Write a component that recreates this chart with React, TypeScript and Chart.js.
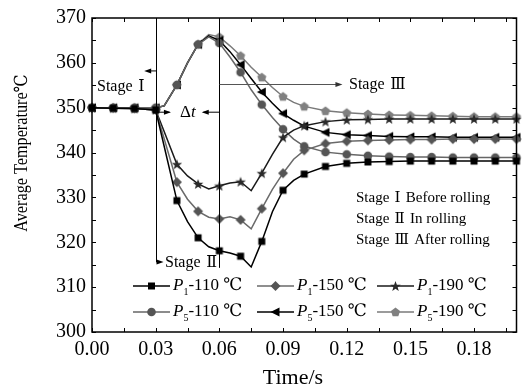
import React, { useEffect, useRef } from 'react';
import { Chart, registerables } from 'chart.js';

Chart.register(...registerables);

// ---------- data ----------
const times = [0, 0.01, 0.02, 0.03, 0.034, 0.04, 0.045, 0.05, 0.055, 0.06, 0.065, 0.07, 0.075, 0.08, 0.085, 0.09, 0.095, 0.1, 0.11, 0.12, 0.13, 0.14, 0.15, 0.16, 0.17, 0.18, 0.19, 0.2];

const p1T110 = [350, 349.9, 349.8, 349.5, 341.4, 329.3, 324.6, 321.0, 319.0, 318.1, 317.6, 316.9, 314.5, 320.2, 326.8, 331.6, 333.8, 335.2, 336.9, 337.6, 337.9, 338.0, 338.1, 338.1, 338.1, 338.1, 338.1, 338.1];
const p1T150 = [350, 349.9, 349.8, 349.5, 343.1, 333.4, 329.6, 326.9, 325.6, 325.2, 325.7, 325.0, 323.0, 327.5, 331.8, 335.4, 338.5, 340.5, 342.0, 342.5, 342.7, 342.8, 342.9, 342.9, 343.0, 343.0, 343.0, 343.0];
const p1T190 = [350, 349.9, 349.8, 349.5, 344.7, 337.4, 334.8, 333.0, 331.9, 332.6, 333.2, 333.5, 331.5, 335.4, 339.6, 343.4, 345.0, 346.0, 346.9, 347.3, 347.4, 347.5, 347.5, 347.5, 347.5, 347.5, 347.5, 347.5];
const p5T110 = [350, 350, 350, 350, 350.4, 355.1, 360.0, 364.1, 365.8, 364.4, 361.3, 357.9, 354.0, 350.7, 347.8, 345.2, 343.0, 341.4, 340.1, 339.6, 339.3, 339.1, 339.0, 339.0, 338.9, 338.9, 338.9, 338.9];
const p5T150 = [350, 350, 350, 350, 350.4, 355.1, 360.0, 364.1, 366.0, 365.0, 362.5, 359.6, 356.5, 353.5, 351.0, 348.7, 347.2, 345.9, 344.5, 344.0, 343.8, 343.6, 343.5, 343.5, 343.4, 343.4, 343.4, 343.4];
const p5T190 = [350, 350, 350, 350, 350.4, 355.1, 360.0, 364.2, 366.3, 365.8, 363.8, 361.6, 359.0, 356.8, 354.5, 352.5, 351.2, 350.3, 349.3, 348.9, 348.6, 348.4, 348.3, 348.2, 348.1, 348.0, 348.0, 348.0];

const seriesPositions = ['1', '1', '1', '5', '5', '5'];
const seriesTemps = ['110', '150', '190', '110', '150', '190'];
const seriesValues = [p1T110, p1T150, p1T190, p5T110, p5T150, p5T190];
const seriesMarkers = ['square', 'diamond', 'star', 'circle', 'triangle', 'pentagon'];
const seriesLineColors = ['#000000', '#6a6a6a', '#1a1a1a', '#666666', '#000000', '#7a7a7a'];
const seriesMarkerColors = ['#000000', '#555555', '#2a2a2a', '#555555', '#000000', '#808080'];

const xTickValues = [0, 0.03, 0.06, 0.09, 0.12, 0.15, 0.18];
const yTickValues = [300, 310, 320, 330, 340, 350, 360, 370];
const xMinorStep = 0.015;
const yMinorStep = 5;

const stageTimes = [0.03, 0.06];
const stageNotes = ['Before rolling', 'In rolling', 'After rolling'];
const stageNumerals = ['Ⅰ', 'Ⅱ', 'Ⅲ'];

const SERIF = '"Liberation Serif", "Times New Roman", "DejaVu Serif", serif';

// ---------- markers ----------
function drawMarker(ctx: CanvasRenderingContext2D, kind: string, x: number, y: number, color: string) {
  ctx.save();
  ctx.fillStyle = color;
  ctx.beginPath();
  if (kind === 'square') {
    ctx.rect(x - 3.5, y - 3.5, 7, 7);
  } else if (kind === 'diamond') {
    ctx.moveTo(x, y - 5);
    ctx.lineTo(x + 5, y);
    ctx.lineTo(x, y + 5);
    ctx.lineTo(x - 5, y);
  } else if (kind === 'star') {
    for (let i = 0; i < 10; i++) {
      const r = i % 2 === 0 ? 5.5 : 2.3;
      const ang = -Math.PI / 2 + (i * Math.PI) / 5;
      const px = x + r * Math.cos(ang);
      const py = y + 0.5 + r * Math.sin(ang);
      if (i === 0) ctx.moveTo(px, py); else ctx.lineTo(px, py);
    }
  } else if (kind === 'circle') {
    ctx.arc(x, y, 4.3, 0, Math.PI * 2);
  } else if (kind === 'triangle') {
    ctx.moveTo(x - 5, y);
    ctx.lineTo(x + 4, y - 4.5);
    ctx.lineTo(x + 4, y + 4.5);
  } else if (kind === 'pentagon') {
    for (let i = 0; i < 5; i++) {
      const ang = -Math.PI / 2 + (i * 2 * Math.PI) / 5;
      const px = x + 4.8 * Math.cos(ang);
      const py = y + 0.4 + 4.8 * Math.sin(ang);
      if (i === 0) ctx.moveTo(px, py); else ctx.lineTo(px, py);
    }
  }
  ctx.closePath();
  ctx.fill();
  ctx.restore();
}

function makeMarkerCanvas(kind: string, color: string) {
  const c = document.createElement('canvas');
  c.width = 14;
  c.height = 14;
  const g = c.getContext('2d');
  if (g) drawMarker(g, kind, 7, 7, color);
  return c;
}

function isMarkerTime(t: number) {
  return Math.abs(t * 100 - Math.round(t * 100)) < 1e-6;
}

function arrowHead(ctx: CanvasRenderingContext2D, x: number, y: number, dir: number) {
  ctx.beginPath();
  ctx.moveTo(x, y);
  ctx.lineTo(x - dir * 7, y - 2.5);
  ctx.lineTo(x - dir * 7, y + 2.5);
  ctx.closePath();
  ctx.fill();
}

function drawStageText(ctx: CanvasRenderingContext2D, x: number, y: number, numeral: string, size: number, tail?: string) {
  ctx.save();
  ctx.textBaseline = 'middle';
  ctx.textAlign = 'left';
  ctx.fillStyle = '#000';
  ctx.font = `${size}px ${SERIF}`;
  let cx = x;
  ctx.fillText('Stage', cx, y);
  cx += ctx.measureText('Stage').width + size * 0.35;
  ctx.fillText(numeral, cx, y);
  cx += ctx.measureText(numeral).width + size * 0.35;
  if (tail) ctx.fillText(tail, cx, y);
  ctx.restore();
}

const decorPlugin = {
  id: 'decor',
  afterDatasetsDraw(chart: any) {
    const { ctx, chartArea: a, scales } = chart;
    const xs = scales.x;
    const ys = scales.y;
    const X = (v: number) => xs.getPixelForValue(v);
    const Y = (v: number) => ys.getPixelForValue(v);

    ctx.save();
    // ---- frame ----
    ctx.strokeStyle = '#000';
    ctx.lineWidth = 1.5;
    ctx.strokeRect(a.left, a.top, a.right - a.left, a.bottom - a.top);

    // ---- inward ticks ----
    ctx.lineWidth = 1;
    for (let v = xs.min; v <= xs.max + 1e-9; v += xMinorStep) {
      const px = Math.round(X(v)) + 0.5;
      ctx.beginPath();
      ctx.moveTo(px, a.bottom);
      ctx.lineTo(px, a.bottom - 4);
      ctx.moveTo(px, a.top);
      ctx.lineTo(px, a.top + 4);
      ctx.stroke();
    }
    for (let v = ys.min; v <= ys.max + 1e-9; v += yMinorStep) {
      const py = Math.round(Y(v)) + 0.5;
      ctx.beginPath();
      ctx.moveTo(a.left, py);
      ctx.lineTo(a.left + 4, py);
      ctx.moveTo(a.right, py);
      ctx.lineTo(a.right - 4, py);
      ctx.stroke();
    }

    // ---- axis titles ----
    ctx.fillStyle = '#000';
    ctx.textAlign = 'center';
    ctx.textBaseline = 'middle';
    ctx.font = `22px ${SERIF}`;
    ctx.fillText('Time/s', 293, 378);
    ctx.save();
    ctx.translate(22, 153);
    ctx.rotate(-Math.PI / 2);
    ctx.scale(0.9, 1);
    ctx.font = `18px ${SERIF}`;
    ctx.fillText('Average Temperature℃', 0, 0);
    ctx.restore();

    // ---- stage annotations ----
    const s1 = Math.round(X(stageTimes[0])) + 0.5;
    const s2 = Math.round(X(stageTimes[1])) + 0.5;
    ctx.strokeStyle = '#000';
    ctx.fillStyle = '#000';
    ctx.lineWidth = 1;
    ctx.beginPath();
    ctx.moveTo(s1, a.top);
    ctx.lineTo(s1, Y(315.6));
    ctx.lineTo(X(0.0325), Y(315.6));
    ctx.moveTo(s2, a.top);
    ctx.lineTo(s2, Y(314.3));
    ctx.stroke();
    arrowHead(ctx, X(0.0337), Y(315.6), 1);

    // Stage I arrow (left of first boundary)
    ctx.beginPath();
    ctx.moveTo(s1, Y(358.2));
    ctx.lineTo(X(0.026), Y(358.2));
    ctx.stroke();
    arrowHead(ctx, X(0.0246), Y(358.2), -1);
    drawStageText(ctx, 97, Y(354.7), stageNumerals[0], 16);

    // Δt arrows
    const dtY = Y(349.0);
    ctx.beginPath();
    ctx.moveTo(s1, dtY);
    ctx.lineTo(X(0.0365), dtY);
    ctx.moveTo(s2, dtY);
    ctx.lineTo(X(0.0525), dtY);
    ctx.stroke();
    arrowHead(ctx, X(0.0372), dtY, 1);
    arrowHead(ctx, X(0.0517), dtY, -1);
    ctx.textBaseline = 'middle';
    ctx.textAlign = 'left';
    ctx.font = `17px ${SERIF}`;
    ctx.fillText('Δ', 180, dtY);
    const dW = ctx.measureText('Δ').width;
    ctx.font = `italic 17px ${SERIF}`;
    ctx.fillText('t', 180 + dW, dtY);

    // Stage II label
    drawStageText(ctx, 165, Y(315.4), stageNumerals[1], 16);

    // Stage III arrow
    ctx.strokeStyle = '#555';
    ctx.fillStyle = '#333';
    const s3Y = Math.round(Y(355.3)) + 0.5;
    ctx.beginPath();
    ctx.moveTo(s2, s3Y);
    ctx.lineTo(X(0.1165), s3Y);
    ctx.stroke();
    arrowHead(ctx, X(0.118), s3Y, 1);
    drawStageText(ctx, 349, s3Y, stageNumerals[2], 16);

    // Stage description block
    drawStageText(ctx, 356, 198, stageNumerals[0], 15, stageNotes[0]);
    drawStageText(ctx, 356, 219, stageNumerals[1], 15, stageNotes[1]);
    drawStageText(ctx, 356, 240, stageNumerals[2], 15, stageNotes[2]);

    // ---- legend ----
    const colLine = [133, 257, 377];
    const rowY = [286, 312];
    for (let i = 0; i < seriesValues.length; i++) {
      const col = i % 3;
      const row = Math.floor(i / 3);
      const lx = colLine[col];
      const ly = rowY[row];
      ctx.strokeStyle = seriesLineColors[i];
      ctx.lineWidth = 1.5;
      ctx.beginPath();
      ctx.moveTo(lx, ly);
      ctx.lineTo(lx + 37, ly);
      ctx.stroke();
      drawMarker(ctx, seriesMarkers[i], lx + 18.5, ly, seriesMarkerColors[i]);
      let tx = lx + 40;
      ctx.fillStyle = '#000';
      ctx.textAlign = 'left';
      ctx.textBaseline = 'middle';
      ctx.font = `italic 17px ${SERIF}`;
      ctx.fillText('P', tx, ly);
      tx += ctx.measureText('P').width;
      ctx.font = `10px ${SERIF}`;
      ctx.fillText(seriesPositions[i], tx, ly + 6);
      tx += ctx.measureText(seriesPositions[i]).width;
      ctx.font = `17px ${SERIF}`;
      ctx.fillText('-' + seriesTemps[i] + ' ℃', tx, ly);
    }
    ctx.restore();
  },
};

export default function App() {
  const canvasRef = useRef<HTMLCanvasElement | null>(null);

  useEffect(() => {
    const canvas = canvasRef.current;
    if (!canvas) return;
    const datasets = seriesValues.map((vals, i) => {
      const img = makeMarkerCanvas(seriesMarkers[i], seriesMarkerColors[i]);
      return {
        label: `P${seriesPositions[i]}-${seriesTemps[i]} ℃`,
        data: times.map((t, k) => ({ x: t, y: vals[k] })),
        borderColor: seriesLineColors[i],
        borderWidth: 1.5,
        backgroundColor: seriesMarkerColors[i],
        pointStyle: img as any,
        pointRadius: (c: any) => (c.raw && isMarkerTime(c.raw.x) ? 4 : 0),
        pointHoverRadius: 0,
        tension: 0,
        clip: false as any,
      };
    });

    const chart = new Chart(canvas, {
      type: 'line',
      data: { datasets },
      options: {
        animation: false,
        responsive: false,
        devicePixelRatio: 1,
        events: [],
        layout: { padding: { top: 13, right: 2, left: 0, bottom: 0 } },
        plugins: { legend: { display: false }, tooltip: { enabled: false } },
        scales: {
          x: {
            type: 'linear',
            min: 0,
            max: 0.2,
            grid: { display: false, drawTicks: false },
            border: { display: false },
            afterBuildTicks: (s: any) => {
              s.ticks = xTickValues.map((v) => ({ value: v }));
            },
            afterFit: (s: any) => {
              s.height = 59;
            },
            ticks: {
              autoSkip: false,
              maxRotation: 0,
              padding: 6,
              color: '#000',
              font: { family: SERIF, size: 20 },
              callback: (v: any) => Number(v).toFixed(2),
            },
          },
          y: {
            type: 'linear',
            min: 300,
            max: 370,
            grid: { display: false, drawTicks: false },
            border: { display: false },
            afterBuildTicks: (s: any) => {
              s.ticks = yTickValues.map((v) => ({ value: v }));
            },
            afterFit: (s: any) => {
              s.width = 92;
            },
            ticks: {
              autoSkip: false,
              padding: 6,
              color: '#000',
              font: { family: SERIF, size: 20 },
              callback: (v: any) => String(v),
            },
          },
        },
      },
      plugins: [decorPlugin],
    });
    return () => chart.destroy();
  }, []);

  return (
    <div style={{ position: 'fixed', left: 0, top: 0, width: 522, height: 391, background: '#fff' }}>
      <canvas ref={canvasRef} width={522} height={391} style={{ display: 'block' }} />
    </div>
  );
}
